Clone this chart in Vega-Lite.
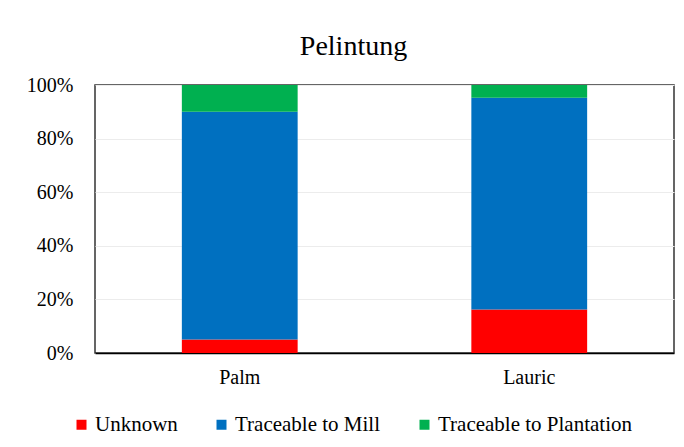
{
  "$schema": "https://vega.github.io/schema/vega-lite/v6.json",
  "autosize": {"type": "none"},
  "padding": {"left": 95, "top": 85, "right": 10, "bottom": 94},
  "width": 579,
  "height": 268,
  "background": "white",
  "title": {"text": "Pelintung", "font": "Liberation Serif", "fontSize": 28, "fontWeight": "normal", "color": "#000", "anchor": "middle", "frame": "group", "dx": -31, "offset": 14},
  "data": {"values": [
    {"source": "Palm", "type": "Unknown", "ord": 1, "value": 0.05},
    {"source": "Palm", "type": "Traceable to Mill", "ord": 2, "value": 0.85},
    {"source": "Palm", "type": "Traceable to Plantation", "ord": 3, "value": 0.10},
    {"source": "Lauric", "type": "Unknown", "ord": 1, "value": 0.162},
    {"source": "Lauric", "type": "Traceable to Mill", "ord": 2, "value": 0.79},
    {"source": "Lauric", "type": "Traceable to Plantation", "ord": 3, "value": 0.048}
  ]},
  "mark": {"type": "bar", "width": {"band": 0.4}},
  "encoding": {
    "x": {"field": "source", "type": "nominal", "sort": ["Palm", "Lauric"], "scale": {"paddingInner": 0, "paddingOuter": 0},
      "axis": {"title": null, "labelAngle": 0, "ticks": false, "domain": true, "domainColor": "#000", "domainWidth": 1.5, "labelPadding": 14, "labelFont": "Liberation Serif", "labelFontSize": 20, "labelColor": "#000", "grid": false}},
    "y": {"field": "value", "type": "quantitative", "stack": "zero", "scale": {"domain": [0, 1]},
      "axis": {"title": null, "format": ".0%", "values": [0, 0.2, 0.4, 0.6, 0.8, 1], "ticks": false, "domain": false, "labelPadding": 22, "labelFont": "Liberation Serif", "labelFontSize": 20, "labelColor": "#000", "grid": true, "gridColor": "#ececec", "gridWidth": 1}},
    "color": {"field": "type", "type": "nominal", "sort": ["Unknown", "Traceable to Mill", "Traceable to Plantation"],
      "scale": {"domain": ["Unknown", "Traceable to Mill", "Traceable to Plantation"], "range": ["#FF0000", "#0070C0", "#00B050"]},
      "legend": {"title": null, "orient": "none", "direction": "horizontal", "legendX": -24, "legendY": 329, "symbolType": "square", "symbolSize": 100, "symbolStrokeWidth": 0, "labelFont": "Liberation Serif", "labelFontSize": 21, "labelColor": "#000", "labelOffset": 3, "labelLimit": 400, "columnPadding": 33}},
    "order": {"field": "ord", "type": "quantitative"}
  },
  "config": {"font": "Liberation Serif", "view": {"stroke": "#333", "strokeWidth": 1.5}}
}
